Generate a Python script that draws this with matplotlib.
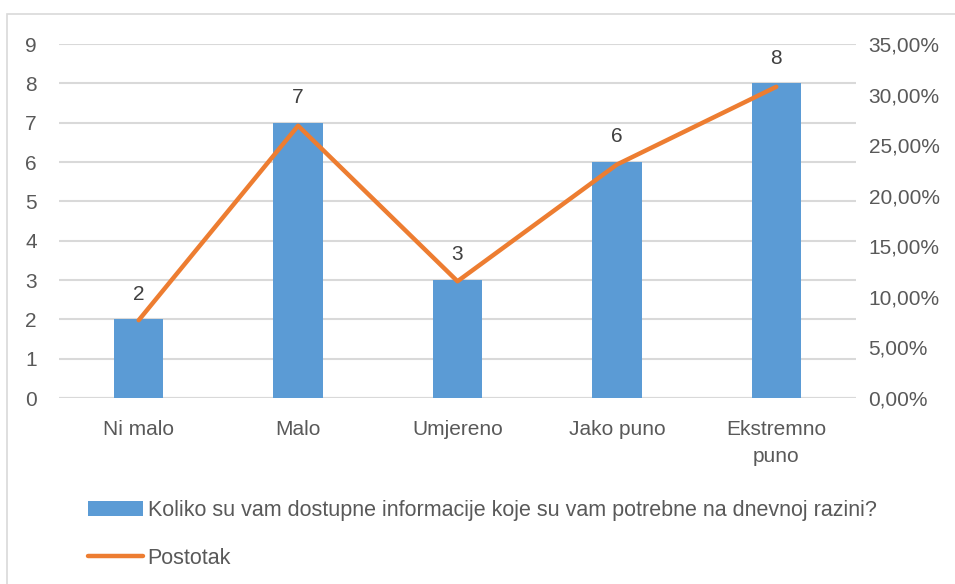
import matplotlib.pyplot as plt
from matplotlib.patches import Rectangle
from matplotlib.ticker import FuncFormatter

# data
categories = ["Ni malo", "Malo", "Umjereno", "Jako puno", "Ekstremno\npuno"]
counts = [2, 7, 3, 6, 8]
percent = [7.69, 26.92, 11.54, 23.08, 30.77]
bar_label = "Koliko su vam dostupne informacije koje su vam potrebne na dnevnoj razini?"
line_label = "Postotak"

BLUE = "#5B9BD5"
ORANGE = "#ED7D31"
GRID = "#D9D9D9"
TEXT = "#595959"

plt.rcParams['font.family'] = ['Liberation Sans', 'DejaVu Sans']
plt.rcParams['font.size'] = 15

fig = plt.figure(figsize=(9.55, 5.84), dpi=100)
fig.patches.append(Rectangle((7 / 955, -0.1), 1.2, 1 - 14 / 584 + 0.1,
                             transform=fig.transFigure, fill=False,
                             edgecolor=GRID, linewidth=1.2))

ax = fig.add_axes([59 / 955, 1 - 398 / 584, 797 / 955, 354 / 584])
x = list(range(len(categories)))
bars = ax.bar(x, counts, width=0.31, color=BLUE, label=bar_label, zorder=2)
ax.set_xlim(-0.5, len(categories) - 0.5)
ax.set_ylim(0, 9)
ax.set_yticks(range(0, 10))
ax.yaxis.grid(True, color=GRID, linewidth=1.5, zorder=0)
ax.set_axisbelow(True)
for s in ax.spines.values():
    s.set_visible(False)
ax.axhline(0, color=GRID, linewidth=1.5, zorder=1)
ax.set_xticks(x)
ax.set_xticklabels(categories, linespacing=1.55)
ax.tick_params(axis='x', length=0, pad=16, colors=TEXT)
ax.tick_params(axis='y', length=0, pad=16, colors=TEXT)

for xi, c in zip(x, counts):
    ax.annotate(str(c), (xi, c), xytext=(0, 18), textcoords='offset points',
                ha='center', va='center', color="#404040", fontsize=15)

ax2 = ax.twinx()
ax2.plot(x, percent, color=ORANGE, linewidth=3.2, label=line_label,
         solid_joinstyle='round', solid_capstyle='round', zorder=3)
ax2.set_ylim(0, 35)
ax2.set_yticks(range(0, 36, 5))
ax2.yaxis.set_major_formatter(FuncFormatter(lambda v, p: f"{v:.2f}%".replace('.', ',')))
ax2.tick_params(axis='y', length=0, pad=9, colors=TEXT)
for s in ax2.spines.values():
    s.set_visible(False)

h1, l1 = ax.get_legend_handles_labels()
h2, l2 = ax2.get_legend_handles_labels()
leg = fig.legend(h1 + h2, l1 + l2, loc='upper left',
                 bbox_to_anchor=(88 / 955, 1 - 500 / 584), frameon=False,
                 borderpad=0, borderaxespad=0, handlelength=2.55,
                 handleheight=0.72, handletextpad=0.22, labelspacing=1.25,
                 fontsize=15.5)
for t in leg.get_texts():
    t.set_color(TEXT)

fig.savefig("out.png", dpi=100)
